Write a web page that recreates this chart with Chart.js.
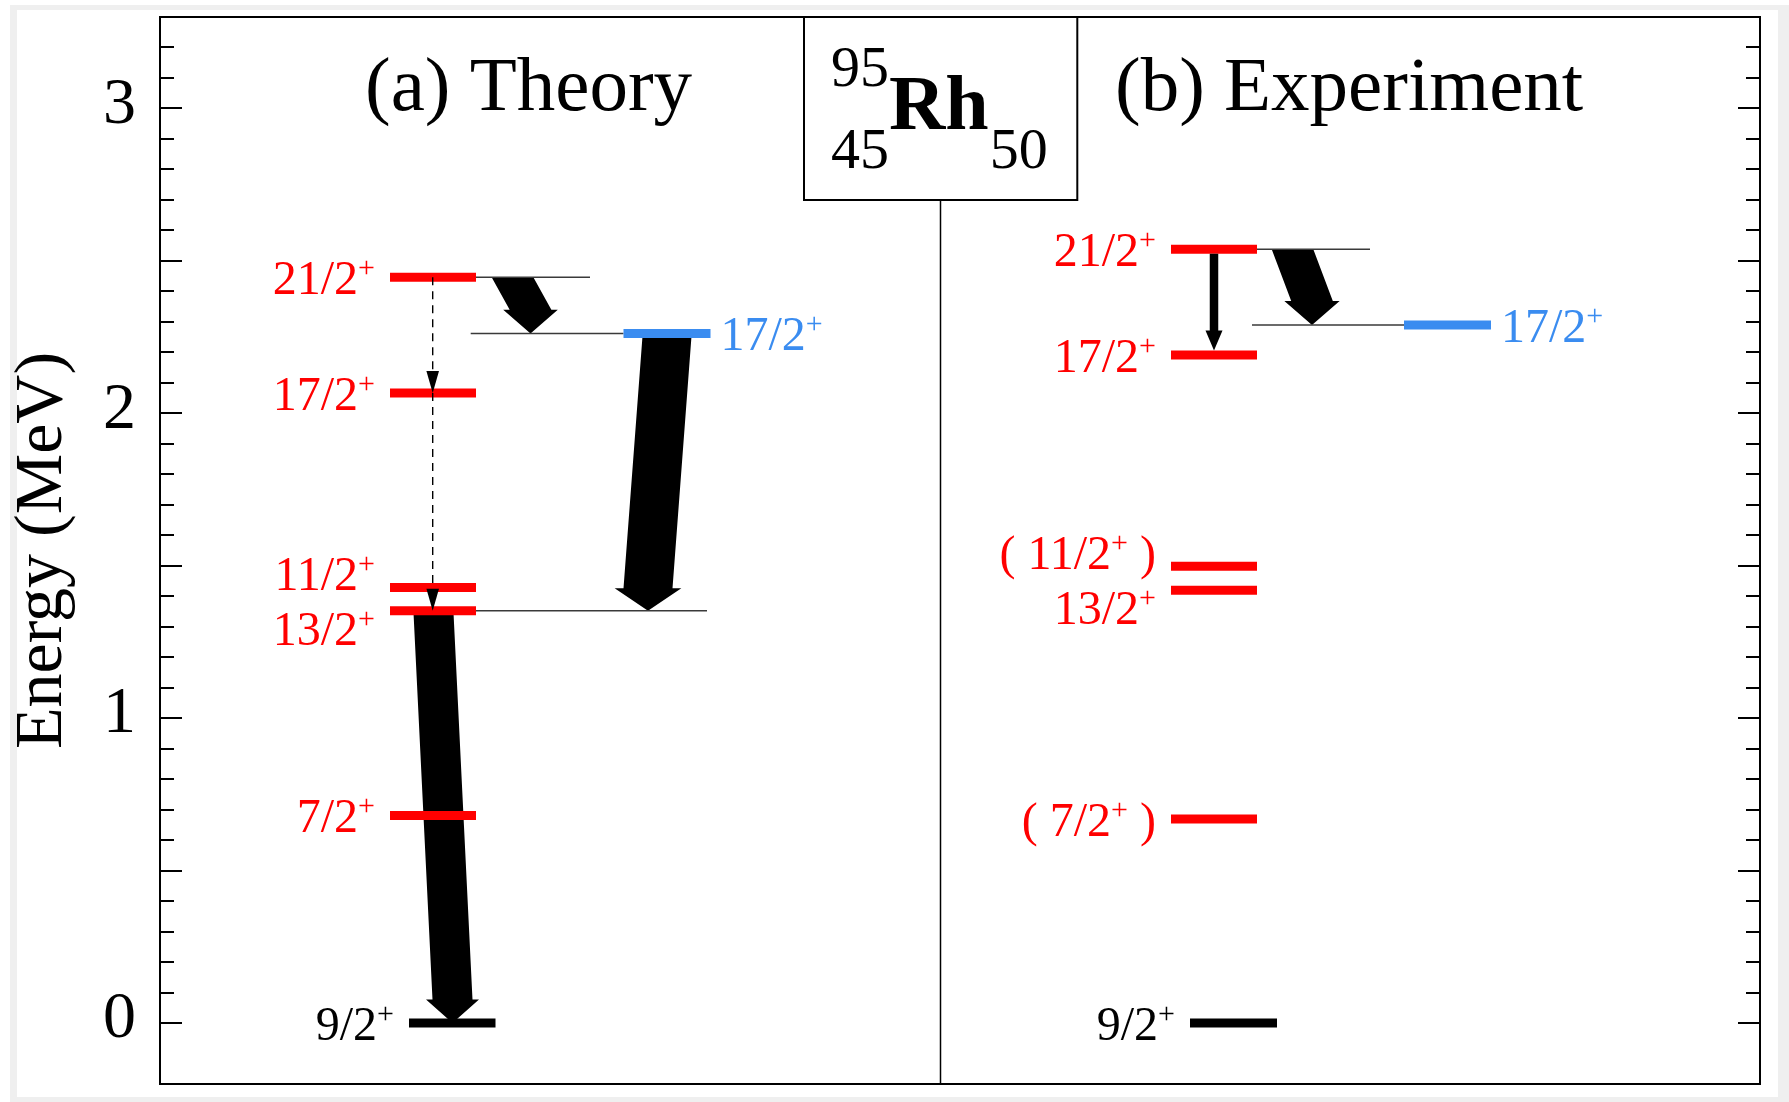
<!DOCTYPE html>
<html>
<head>
<meta charset="utf-8">
<script src="https://cdn.jsdelivr.net/npm/chart.js@4.4.1/dist/chart.umd.min.js"></script>
<style>
html,body{margin:0;padding:0;background:#fff;}
canvas{display:block;}
</style>
</head>
<body>
<canvas id="c" width="1789" height="1102" style="width:1789px;height:1102px"></canvas>
<script>
const SERIF = "'Liberation Serif','Times New Roman',Times,serif";

// ---------------- DATA ----------------
const panelTitles = ['(a) Theory', '(b) Experiment'];
const nucleusSymbol = 'Rh';
const nucleusA = '95';
const nucleusZ = '45';
const nucleusN = '50';

// Level energies (MeV)
const theoryStates   = ['9/2', '7/2', '13/2', '11/2', '17/2', '21/2'];
const theoryEnergies = [0.000, 0.681, 1.352, 1.429, 2.067, 2.446];
const theoryBlueState  = '17/2';
const theoryBlueEnergy = 2.262;

const expStates    = ['9/2', '7/2', '13/2', '11/2', '17/2', '21/2'];
const expEnergies  = [0.000, 0.669, 1.420, 1.498, 2.191, 2.538];
const expTentative = [false, true, false, true, false, false];
const expBlueState  = '17/2';
const expBlueEnergy = 2.290;

// Transitions [from, to, strength class]  ('b' prefix = blue level)
const theoryTransitions = [
  ['21/2', 'b17/2', 'strong'],
  ['b17/2', '13/2', 'huge'],
  ['13/2', '9/2', 'huge'],
  ['21/2', '17/2', 'weak'],
  ['17/2', '13/2', 'weak']
];
const expTransitions = [
  ['21/2', 'b17/2', 'strong'],
  ['21/2', '17/2', 'medium']
];

const yTickValues = [0, 1, 2, 3];
const yAxisTitle = 'Energy (MeV)';

// ---------------- LAYOUT / STYLE ----------------
const RED = '#ff0000', BLUE = '#3a8cf0', BLACK = '#000000', THIN = '#3a3a3a';
const LAYOUT = {
  theory: { red: [230, 316], gs: [249, 335.5], blue: [463.5, 550.5] },
  exp:    { red: [1011, 1097], gs: [1030, 1117], blue: [1244, 1331] },
  divider: 780.5,
  box: [644, 917.3],
  // thin reference lines  [panel, levelKey, x1, x2]
  thin: [
    ['theory', '21/2', 316, 430],
    ['theory', 'b17/2', 310.7, 463.5],
    ['theory', '13/2', 316, 547],
    ['exp', '21/2', 1097, 1210],
    ['exp', 'b17/2', 1092, 1244]
  ],
  // arrow geometry per transition, same order as transition arrays
  theoryArrows: [
    { xs: 352.5, xt: 370.5, w: 41.7, hw: 54.6, hl: 23.7 },
    { xs: 507.2, xt: 488.0, w: 49.0, hw: 66.7, hl: 22.7 },
    { xs: 273.4, xt: 292.5, w: 40.0, hw: 53.0, hl: 23.5 },
    { xs: 272.7, xt: 272.7, w: 1.4, hw: 12.6, hl: 22 },
    { xs: 272.7, xt: 272.7, w: 1.4, hw: 12.6, hl: 22 }
  ],
  expArrows: [
    { xs: 1132.5, xt: 1152.0, w: 41.6, hw: 55.3, hl: 24 },
    { xs: 1054.0, xt: 1054.0, w: 8.5, hw: 17, hl: 20, inset: 4.5 }
  ],
  // label vertical nudges (px)
  labelDy: {
    theory: { '11/2': -14, '13/2': 17 },
    exp: { '11/2': -14, '13/2': 17 }
  }
};

function energyOf(panel, key) {
  if (panel === 'theory') {
    if (key === 'b17/2') return theoryBlueEnergy;
    return theoryEnergies[theoryStates.indexOf(key)];
  }
  if (key === 'b17/2') return expBlueEnergy;
  return expEnergies[expStates.indexOf(key)];
}

// ---------------- DATASETS ----------------
const datasets = [];
function levelDataset(x, E, color, width) {
  return {
    data: [{ x: x[0], y: E }, { x: x[1], y: E }],
    showLine: true, borderColor: color, borderWidth: width,
    pointRadius: 0, fill: false, borderCapStyle: 'butt'
  };
}
theoryStates.forEach((s, i) => {
  const gs = theoryEnergies[i] === 0;
  datasets.push(levelDataset(gs ? LAYOUT.theory.gs : LAYOUT.theory.red, theoryEnergies[i], gs ? BLACK : RED, 9));
});
datasets.push(levelDataset(LAYOUT.theory.blue, theoryBlueEnergy, BLUE, 9));
expStates.forEach((s, i) => {
  const gs = expEnergies[i] === 0;
  datasets.push(levelDataset(gs ? LAYOUT.exp.gs : LAYOUT.exp.red, expEnergies[i], gs ? BLACK : RED, 9));
});
datasets.push(levelDataset(LAYOUT.exp.blue, expBlueEnergy, BLUE, 9));
LAYOUT.thin.forEach(t => {
  datasets.push(levelDataset([t[2], t[3]], energyOf(t[0], t[1]), THIN, 1.5));
});

// ---------------- PLUGINS ----------------
const bgPlugin = {
  id: 'bg',
  beforeDraw(chart) {
    const ctx = chart.ctx;
    ctx.save();
    ctx.fillStyle = '#ffffff';
    ctx.fillRect(0, 0, chart.width, chart.height);
    ctx.fillStyle = '#efefef';
    ctx.fillRect(10, 5, chart.width - 10, chart.height - 5);
    ctx.fillStyle = '#ffffff';
    ctx.fillRect(17, 10, 1761, 1087);
    ctx.restore();
  }
};

function drawBigArrow(ctx, xs, ys, xt, yt, w, hw, hl) {
  const yb = yt - hl;
  ctx.beginPath();
  ctx.moveTo(xs - w / 2, ys);
  ctx.lineTo(xs + w / 2, ys);
  ctx.lineTo(xt + w / 2, yb);
  ctx.lineTo(xt + hw / 2, yb);
  ctx.lineTo(xt, yt);
  ctx.lineTo(xt - hw / 2, yb);
  ctx.lineTo(xt - w / 2, yb);
  ctx.closePath();
  ctx.fill();
}

const arrowPlugin = {
  id: 'arrows',
  beforeDatasetsDraw(chart) {
    const ctx = chart.ctx, xS = chart.scales.x, yS = chart.scales.y;
    ctx.save();
    ctx.fillStyle = '#000';
    const run = (panel, trans, geo) => {
      trans.forEach((t, i) => {
        if (t[2] !== 'strong' && t[2] !== 'huge') return;
        const g = geo[i];
        drawBigArrow(ctx, xS.getPixelForValue(g.xs), yS.getPixelForValue(energyOf(panel, t[0])),
          xS.getPixelForValue(g.xt), yS.getPixelForValue(energyOf(panel, t[1])), g.w, g.hw, g.hl);
      });
    };
    run('theory', theoryTransitions, LAYOUT.theoryArrows);
    run('exp', expTransitions, LAYOUT.expArrows);
    ctx.restore();
  },
  afterDatasetsDraw(chart) {
    const ctx = chart.ctx, xS = chart.scales.x, yS = chart.scales.y;
    ctx.save();
    ctx.fillStyle = '#000';
    ctx.strokeStyle = '#000';
    const run = (panel, trans, geo) => {
      trans.forEach((t, i) => {
        const g = geo[i];
        const x = xS.getPixelForValue(g.xs);
        const inset = g.inset || 0;
        const y1 = yS.getPixelForValue(energyOf(panel, t[0])) + inset;
        const y2 = yS.getPixelForValue(energyOf(panel, t[1])) - inset;
        if (t[2] === 'weak') {
          ctx.lineWidth = g.w;
          ctx.setLineDash([8, 6]);
          ctx.beginPath();
          ctx.moveTo(x, y1);
          ctx.lineTo(x, y2 - g.hl);
          ctx.stroke();
          ctx.setLineDash([]);
          ctx.beginPath();
          ctx.moveTo(x - g.hw / 2, y2 - g.hl);
          ctx.lineTo(x + g.hw / 2, y2 - g.hl);
          ctx.lineTo(x, y2);
          ctx.closePath();
          ctx.fill();
        } else if (t[2] === 'medium') {
          drawBigArrow(ctx, x, y1, x, y2, g.w, g.hw, g.hl);
        }
      });
    };
    run('theory', theoryTransitions, LAYOUT.theoryArrows);
    run('exp', expTransitions, LAYOUT.expArrows);
    ctx.restore();
  }
};

function drawLabel(ctx, parts, x, baseline, align, color) {
  // parts: [mainText, supText, tailText]
  const mainFont = '48px ' + SERIF, supFont = '30px ' + SERIF;
  ctx.font = mainFont;
  const w1 = ctx.measureText(parts[0]).width;
  const w3 = parts[2] ? ctx.measureText(parts[2]).width : 0;
  ctx.font = supFont;
  const w2 = ctx.measureText(parts[1]).width;
  const total = w1 + w2 + w3;
  let x0 = align === 'right' ? x - total : x;
  ctx.fillStyle = color;
  ctx.textAlign = 'left';
  ctx.textBaseline = 'alphabetic';
  ctx.font = mainFont;
  ctx.fillText(parts[0], x0, baseline);
  ctx.font = supFont;
  ctx.fillText(parts[1], x0 + w1, baseline - 17);
  if (parts[2]) {
    ctx.font = mainFont;
    ctx.fillText(parts[2], x0 + w1 + w2, baseline);
  }
}

const labelPlugin = {
  id: 'labels',
  afterDatasetsDraw(chart) {
    const ctx = chart.ctx, xS = chart.scales.x, yS = chart.scales.y;
    ctx.save();
    const gap = 15, gapR = 10;
    theoryStates.forEach((s, i) => {
      const gs = theoryEnergies[i] === 0;
      const xl = xS.getPixelForValue((gs ? LAYOUT.theory.gs : LAYOUT.theory.red)[0]) - gap;
      const dy = (LAYOUT.labelDy.theory[s] || 0);
      const y = yS.getPixelForValue(theoryEnergies[i]) + 17 + dy;
      drawLabel(ctx, [s, '+', ''], xl, y, 'right', gs ? BLACK : RED);
    });
    drawLabel(ctx, [theoryBlueState, '+', ''], xS.getPixelForValue(LAYOUT.theory.blue[1]) + gapR,
      yS.getPixelForValue(theoryBlueEnergy) + 17, 'left', BLUE);
    expStates.forEach((s, i) => {
      const gs = expEnergies[i] === 0;
      const xl = xS.getPixelForValue((gs ? LAYOUT.exp.gs : LAYOUT.exp.red)[0]) - gap;
      const dy = (LAYOUT.labelDy.exp[s] || 0);
      const y = yS.getPixelForValue(expEnergies[i]) + 17 + dy;
      const parts = expTentative[i] ? ['( ' + s, '+', ' )'] : [s, '+', ''];
      drawLabel(ctx, parts, xl, y, 'right', gs ? BLACK : RED);
    });
    drawLabel(ctx, [expBlueState, '+', ''], xS.getPixelForValue(LAYOUT.exp.blue[1]) + gapR,
      yS.getPixelForValue(expBlueEnergy) + 17, 'left', BLUE);
    ctx.restore();
  }
};

const framePlugin = {
  id: 'frame',
  afterDraw(chart) {
    const ctx = chart.ctx, a = chart.chartArea, xS = chart.scales.x, yS = chart.scales.y;
    ctx.save();
    ctx.strokeStyle = '#000';
    // ticks (inward, both sides)
    ctx.lineWidth = 2;
    for (let k = 0; k <= 32; k++) {
      const v = k / 10;
      const y = Math.round(yS.getPixelForValue(v)) + 0.0;
      const len = (k % 5 === 0) ? 22 : 14;
      ctx.beginPath();
      ctx.moveTo(a.left, y); ctx.lineTo(a.left + len, y);
      ctx.moveTo(a.right, y); ctx.lineTo(a.right - len, y);
      ctx.stroke();
    }
    // frame
    ctx.lineWidth = 2;
    ctx.strokeRect(a.left, a.top, a.right - a.left, a.bottom - a.top);
    // nucleus box and divider
    const bx1 = xS.getPixelForValue(LAYOUT.box[0]), bx2 = xS.getPixelForValue(LAYOUT.box[1]);
    const by2 = 200;
    ctx.strokeRect(bx1, a.top, bx2 - bx1, by2 - a.top);
    ctx.lineWidth = 1.5;
    const dx = xS.getPixelForValue(LAYOUT.divider);
    ctx.beginPath();
    ctx.moveTo(dx, by2); ctx.lineTo(dx, a.bottom);
    ctx.stroke();
    // panel titles
    ctx.fillStyle = '#000';
    ctx.textBaseline = 'alphabetic';
    ctx.textAlign = 'left';
    ctx.font = '77px ' + SERIF;
    ctx.fillText(panelTitles[0], 365, 110);
    ctx.fillText(panelTitles[1], 1115, 110);
    // nucleus
    ctx.font = '58px ' + SERIF;
    ctx.fillText(nucleusA, 831, 86);
    ctx.fillText(nucleusZ, 831, 168);
    ctx.font = 'bold 78px ' + SERIF;
    ctx.fillText(nucleusSymbol, 889, 129);
    const rw = ctx.measureText(nucleusSymbol).width;
    ctx.font = '58px ' + SERIF;
    ctx.fillText(nucleusN, 889 + rw + 1, 168);
    ctx.restore();
  }
};

// ---------------- CHART ----------------
new Chart(document.getElementById('c'), {
  type: 'scatter',
  data: { datasets },
  options: {
    responsive: false,
    animation: false,
    events: [],
    layout: { padding: { top: 17, right: 29, bottom: 18, left: 0 } },
    plugins: { legend: { display: false }, tooltip: { enabled: false }, title: { display: false } },
    scales: {
      x: { type: 'linear', min: 0, max: 1600, display: false },
      y: {
        type: 'linear', min: -0.2, max: 3.3, position: 'left',
        grid: { display: false, drawTicks: false },
        border: { display: false },
        afterBuildTicks: s => { s.ticks = yTickValues.map(v => ({ value: v })); },
        afterFit: s => { s.width = 160; s.paddingTop = 0; s.paddingBottom = 0; },
        ticks: {
          font: { family: SERIF, size: 66 }, color: '#000', padding: 24, labelOffset: -3,
          callback: v => String(v)
        },
        title: {
          display: true, text: yAxisTitle, color: '#000',
          font: { family: SERIF, size: 68, lineHeight: 1 },
          padding: { top: 9, bottom: 0 }
        }
      }
    }
  },
  plugins: [bgPlugin, arrowPlugin, labelPlugin, framePlugin]
});
</script>
</body>
</html>
